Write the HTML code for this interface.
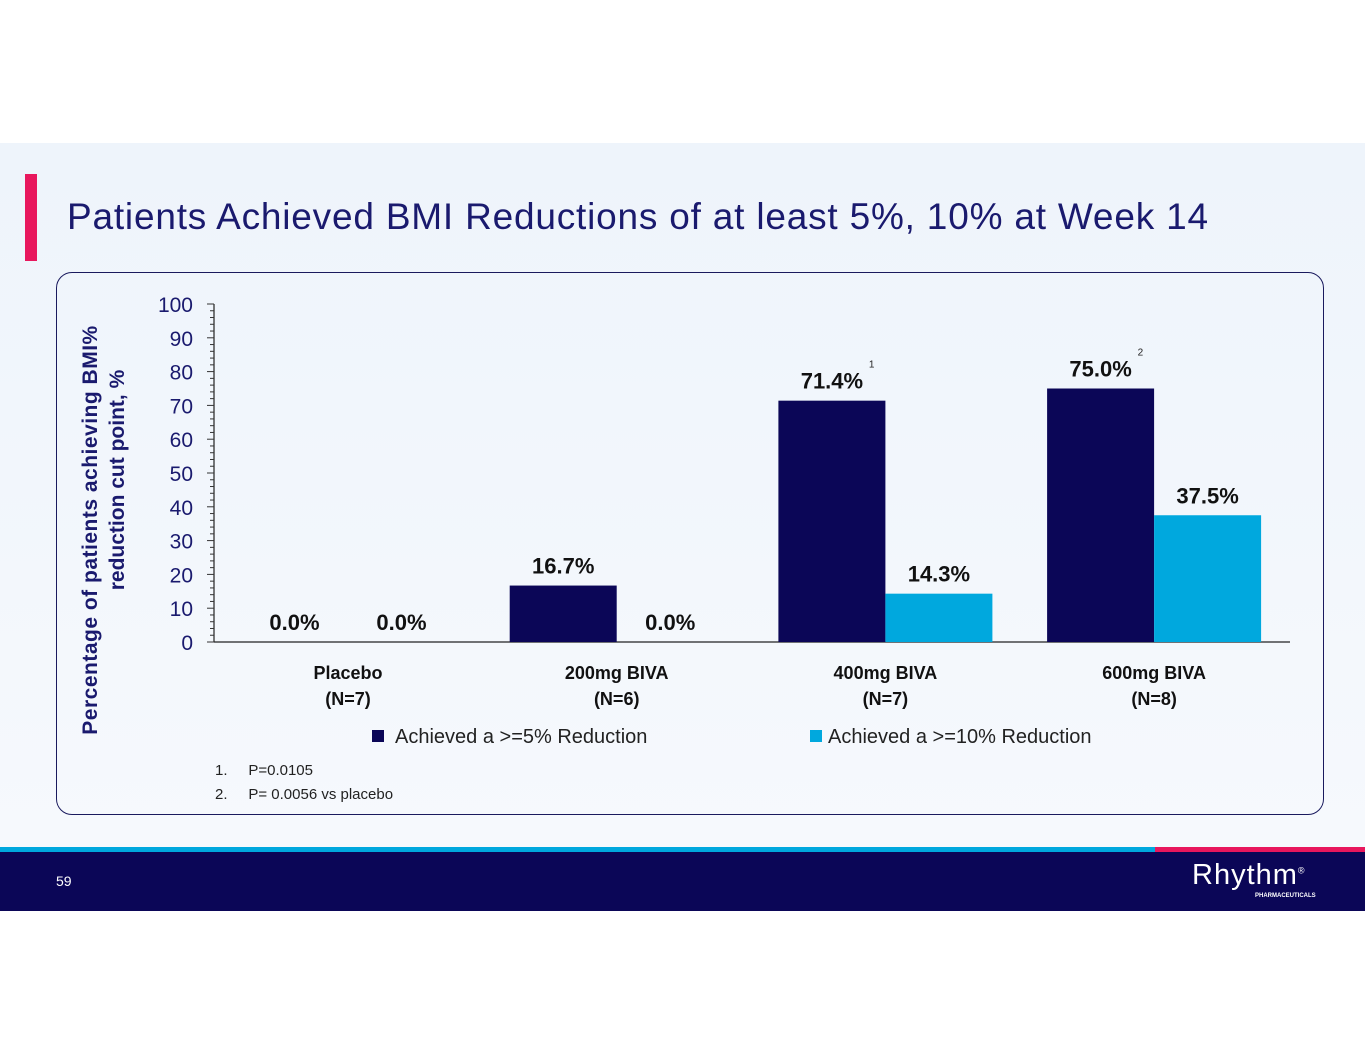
<!DOCTYPE html>
<html><head><meta charset="utf-8">
<style>
body{margin:0;width:1365px;height:1055px;background:#fff;position:relative;overflow:hidden;font-family:"Liberation Sans",sans-serif}
.slide{position:absolute;left:0;top:143px;width:1365px;height:705px;background:linear-gradient(#eef4fb,#f6f9fd)}
</style></head><body>
<div class="slide"></div>
<div style="position:absolute;left:25px;top:174px;width:12px;height:87px;background:#e8175d"></div>
<div style="position:absolute;left:67px;top:196px;font-size:37px;letter-spacing:0.8px;color:#1a1a6e;white-space:nowrap">Patients Achieved BMI Reductions of at least 5%, 10% at Week 14</div>
<div style="position:absolute;left:56px;top:272px;width:1266px;height:541px;border:1.5px solid #1a1a5e;border-radius:16px"></div>
<svg id="chart" width="1365" height="1055" style="position:absolute;left:0;top:0"></svg>
<div style="position:absolute;left:215px;top:762px;font-size:15px;color:#222">1.&nbsp;&nbsp;&nbsp;&nbsp;&nbsp;P=0.0105</div>
<div style="position:absolute;left:215px;top:786px;font-size:15px;color:#222">2.&nbsp;&nbsp;&nbsp;&nbsp;&nbsp;P= 0.0056 vs placebo</div>
<div style="position:absolute;left:0;top:847px;width:1155px;height:5px;background:#00a8de"></div>
<div style="position:absolute;left:1155px;top:847px;width:210px;height:5px;background:#e8175d"></div>
<div style="position:absolute;left:0;top:852px;width:1365px;height:59px;background:#0b0657"></div>
<div style="position:absolute;left:56px;top:873px;font-size:14px;color:#fff">59</div>
<div style="position:absolute;left:1192px;top:859px;font-size:29px;color:#fff;letter-spacing:1px">Rhythm<sup style="font-size:9px">®</sup></div>
<div style="position:absolute;left:1255px;top:893px;font-size:6px;color:#fff;font-weight:bold">PHARMACEUTICALS</div>
<script>
const categories=["Placebo","200mg BIVA","400mg BIVA","600mg BIVA"];
const nLabels=["(N=7)","(N=6)","(N=7)","(N=8)"];
const series5=[0,16.7,71.4,75.0];
const series10=[0,0,14.3,37.5];
const superscripts5=["","","1","2"];
const yTicks=[0,10,20,30,40,50,60,70,80,90,100];
const svg=document.getElementById('chart');const NS="http://www.w3.org/2000/svg";
function mk(t,a,txt){const e=document.createElementNS(NS,t);for(const k in a)e.setAttribute(k,a[k]);if(txt!==undefined)e.textContent=txt;svg.appendChild(e);return e;}
const x0=214,gw=268.7,bw=107,y0=642,y1=304;
const y=v=>y0-(v/100)*(y0-y1);
const gx=i=>x0+27+i*gw;
let e=mk('line',{x1:x0,y1:y0,x2:1290,y2:y0,stroke:'#222','stroke-width':1.2});

e=mk('line',{x1:x0,y1:y1,x2:x0,y2:y0,stroke:'#222','stroke-width':1.2});

for(let v=0;v<=100;v+=2){e=mk('line',{x1:x0-(v%10?4:7),y1:y(v),x2:x0,y2:y(v),stroke:'#333','stroke-width':1});
}
yTicks.forEach(v=>{e=mk('text',{x:193,y:y(v)+8,'text-anchor':'end','font-size':21,fill:'#1a1a6e'},v);
});
categories.forEach((c,i)=>{
 const bx=gx(i);
 e=mk('rect',{x:bx,y:y(series5[i]),width:bw,height:y0-y(series5[i]),fill:'#0b0657'});
 
 e=mk('rect',{x:bx+bw,y:y(series10[i]),width:bw,height:y0-y(series10[i]),fill:'#00a8de'});
 
 e=mk('text',{x:bx+bw/2,y:y(series5[i])-12,'text-anchor':'middle','font-size':22,'font-weight':'bold',fill:'#111'},series5[i].toFixed(1)+'%');
 
 if(superscripts5[i]){e=mk('text',{x:bx+bw/2+37,y:y(series5[i])-33,'font-size':10,fill:'#222'},superscripts5[i]);
 }
 e=mk('text',{x:bx+bw*1.5,y:y(series10[i])-12,'text-anchor':'middle','font-size':22,'font-weight':'bold',fill:'#111'},series10[i].toFixed(1)+'%');
 
 e=mk('text',{x:bx+bw,y:679,'text-anchor':'middle','font-size':18,'font-weight':'bold',fill:'#111'},c);
 
 e=mk('text',{x:bx+bw,y:705,'text-anchor':'middle','font-size':18,'font-weight':'bold',fill:'#111'},nLabels[i]);
 
});
e=mk('text',{transform:'translate(97,530) rotate(-90)','text-anchor':'middle','font-size':21,'font-weight':'bold',fill:'#1a1a6e','letter-spacing':'0.5'},'Percentage of patients achieving BMI%');

e=mk('text',{transform:'translate(124,480) rotate(-90)','text-anchor':'middle','font-size':21,'font-weight':'bold',fill:'#1a1a6e'},'reduction cut point, %');

e=mk('rect',{x:372,y:730,width:12,height:12,fill:'#0b0657'});

e=mk('text',{x:395,y:743,'font-size':20,fill:'#222'},'Achieved a >=5% Reduction');

e=mk('rect',{x:810,y:730,width:12,height:12,fill:'#00a8de'});

e=mk('text',{x:828,y:743,'font-size':20,fill:'#222'},'Achieved a >=10% Reduction');

</script>
</body></html>
